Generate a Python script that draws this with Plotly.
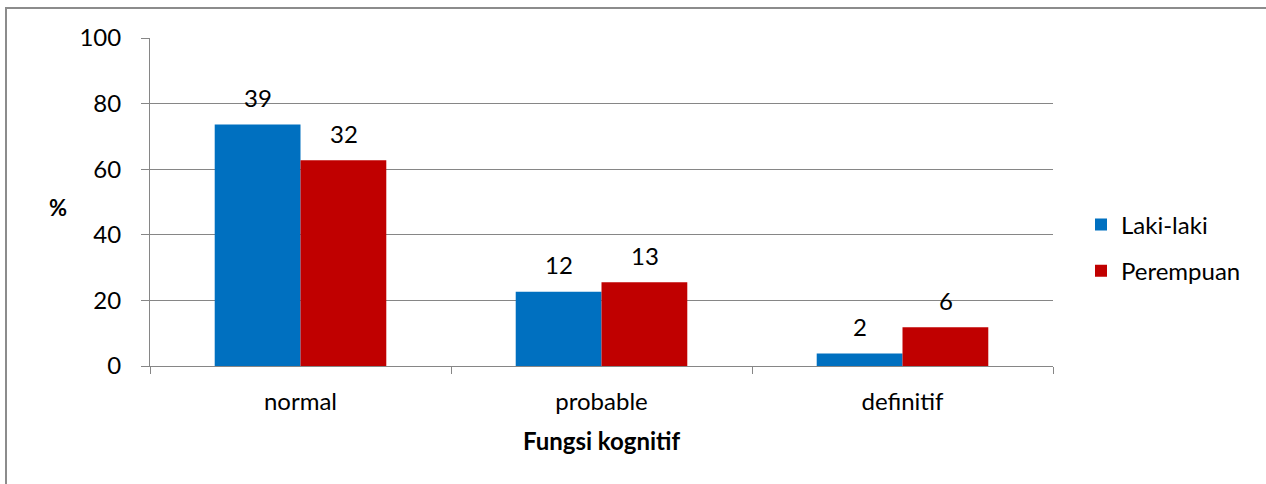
import plotly.graph_objects as go

categories = ["normal", "probable", "definitif"]
series_names = ["Laki-laki", "Perempuan"]
pct_laki = [73.6, 22.6, 3.8]
pct_perempuan = [62.7, 25.5, 11.8]
count_laki = [39, 12, 2]
count_perempuan = [32, 13, 6]
colors = ["#0070C0", "#C00000"]

FONT = "Lato, Carlito, Calibri, sans-serif"
FS = 24

# plot area in page coords: x 150..1053, y 38..366 (body margin removed)
OFF = 0
PL, PR, PT, PB = 150, 1053, 38, 366
W, H = 1266, 484


def px(xp):
    return (xp - PL) / (PR - PL)


def py(yp):
    return (PB - yp) / (PB - PT)


fig = go.Figure()
for name, vals, col, grp in [(series_names[0], pct_laki, colors[0], "a"),
                             (series_names[1], pct_perempuan, colors[1], "b")]:
    fig.add_trace(go.Bar(x=categories, y=vals, name=name, marker_color=col,
                         marker_line_width=0, legendgroup=grp))

annotations = []
for vals, counts, shift in [(pct_laki, count_laki, -43), (pct_perempuan, count_perempuan, 43)]:
    for c, v, n in zip(categories, vals, counts):
        annotations.append(dict(x=c, y=v, xref="x", yref="y", text=str(n), showarrow=False,
                                xshift=shift, yshift=27, font=dict(size=FS, color="black", family=FONT)))
annotations.append(dict(x=px(58), y=py(207), xref="paper", yref="paper", text="<b>%</b>",
                        showarrow=False, xanchor="center", yanchor="middle",
                        font=dict(size=22, color="black", family=FONT)))

fig.update_layout(
    width=W, height=H,
    margin=dict(l=PL - OFF, r=W - PR + OFF, t=PT - OFF, b=H - PB + OFF),
    paper_bgcolor="white", plot_bgcolor="white",
    barmode="group", bargap=0.43, bargroupgap=0,
    font=dict(family=FONT, size=FS, color="black"),
    showlegend=True,
    legend=dict(x=px(1081), y=py(248), xanchor="left", yanchor="middle",
                font=dict(size=FS, family=FONT), tracegroupgap=12,
                bgcolor="rgba(0,0,0,0)"),
    annotations=annotations,
    shapes=[
        dict(type="line", xref="paper", yref="paper", x0=px(5), x1=px(1300),
             y0=py(8), y1=py(8), line=dict(color="#8c8c8c", width=2)),
        dict(type="line", xref="paper", yref="paper", x0=px(6), x1=px(6),
             y0=py(7), y1=py(520), line=dict(color="#8c8c8c", width=2)),
    ],
)
fig.update_xaxes(
    showline=True, linecolor="#868686", linewidth=1,
    ticks="outside", tickson="boundaries", ticklen=7, tickcolor="#868686",
    ticklabelstandoff=14,
    title=dict(text="<b>Fungsi kognitif</b>", font=dict(size=FS, family=FONT), standoff=19),
    tickfont=dict(size=FS, family=FONT),
)
fig.update_yaxes(
    range=[0, 100], dtick=20, showline=True, linecolor="#868686", linewidth=1,
    ticks="outside", ticklen=8, tickcolor="#868686",
    showgrid=True, gridcolor="#868686", gridwidth=1, zeroline=False,
    tickfont=dict(size=FS, family=FONT), ticklabelstandoff=15,
)

fig.write_html("out.html", config={"displayModeBar": False},
               post_script="document.body.style.margin='0px';")
